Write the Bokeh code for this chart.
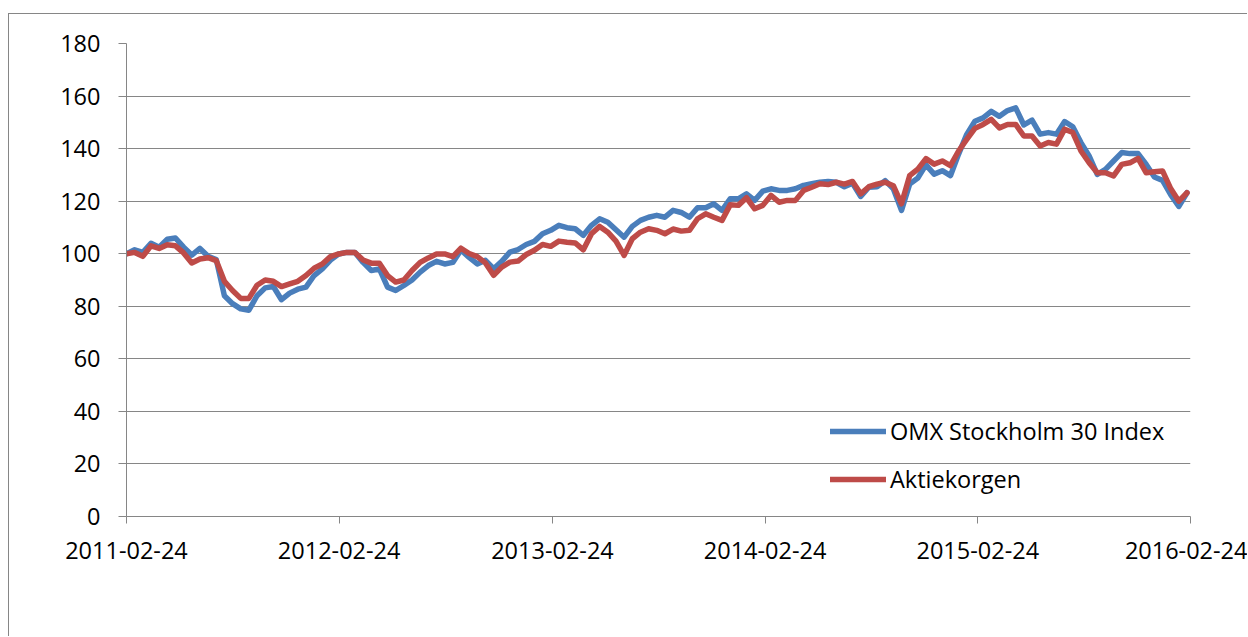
import pandas as pd
from bokeh.plotting import figure
from bokeh.models import (FixedTicker, DatetimeTickFormatter, Legend, LegendItem,
                          Range1d, ColumnDataSource)
from bokeh.embed import file_html
from bokeh.resources import INLINE

# ---------------- data ----------------
start_date = "2011-02-24"
end_date = "2016-02-24"
n_points = 131
dates = pd.date_range(start_date, periods=n_points, freq="14D")

omx = [100, 101.5, 100.5, 104, 102.5, 105.5, 106, 102.5, 99.5, 102,
       99, 97.8, 84, 81, 79, 78.5, 84, 87, 87.5, 82.5,
       85, 86.5, 87.3, 91.7, 94.2, 97.6, 99.9, 100.5, 100.5, 96.7,
       93.6, 94.2, 87.3, 86, 87.9, 90, 93, 95.5, 97.1, 96.1,
       96.7, 101.4, 98.6, 96.1, 97.5, 94.3, 97.1, 100.6, 101.6, 103.5,
       104.7, 107.6, 108.9, 110.8, 109.9, 109.5, 107, 110.8, 113.3, 112,
       109.1, 106.3, 110.4, 112.7, 113.9, 114.6, 113.9, 116.5, 115.7, 113.9,
       117.5, 117.5, 119, 116.5, 120.9, 120.9, 122.8, 120.3, 123.8, 124.7,
       124.1, 124.1, 124.7, 126, 126.6, 127.2, 127.5, 127.2, 125.5, 126.8,
       121.8, 125.3, 125.5, 127.8, 124.7, 116.5, 126.5, 128.8, 133.8, 130.3,
       131.6, 129.7, 137.9, 145.4, 150.4, 151.7, 154.2, 152.3, 154.5, 155.5,
       149, 150.8, 145.5, 146.1, 145.5, 150.3, 148.3, 142.3, 137.2, 130.2,
       132.1, 135.3, 138.5, 138.1, 138.1, 134, 129.2, 127.9, 122.5, 118,
       123.2]

aktiekorgen = [100, 100.5, 99, 103, 102, 103.4, 103, 100.3, 96.5, 98,
               98.5, 97.4, 89.5, 86, 83, 83, 88, 90, 89.5, 87.5,
               88.5, 89.5, 91.7, 94.5, 96.1, 98.9, 99.9, 100.5, 100.5, 97.6,
               96.4, 96.4, 91.7, 89.2, 90, 93.6, 96.7, 98.4, 99.9, 99.9,
               98.9, 102.1, 100.1, 98.9, 96.5, 91.8, 94.9, 96.8, 97.2, 99.7,
               101.3, 103.5, 102.8, 104.8, 104.4, 104.1, 101.5, 107.6, 110.4, 108.2,
               104.8, 99.4, 105.7, 108.2, 109.5, 108.9, 107.6, 109.4, 108.6, 108.9,
               113.3, 115.2, 113.9, 112.7, 118.6, 118.4, 121.3, 117.1, 118.4, 122.2,
               119.6, 120.3, 120.3, 124.1, 125.3, 126.6, 126.3, 127.2, 126.5, 127.5,
               122.8, 125.5, 126.5, 127.2, 125.9, 119, 129.7, 132.2, 136.2, 134.1,
               135.3, 133.5, 139.1, 143.5, 147.7, 149.2, 151.1, 147.9, 149.2, 149.2,
               144.8, 144.8, 141, 142.3, 141.7, 147.4, 146.1, 139.1, 134.6, 130.8,
               130.8, 129.6, 134, 134.6, 136.3, 130.8, 131.2, 131.5, 124.8, 120,
               123.2]

series_names = ["OMX Stockholm 30 Index", "Aktiekorgen"]
x_tick_dates = ["2011-02-24", "2012-02-24", "2013-02-24", "2014-02-24",
                "2015-02-24", "2016-02-24"]
y_ticks = [0, 20, 40, 60, 80, 100, 120, 140, 160, 180]

# ---------------- styling ----------------
BLUE = "#4A7EBB"
RED = "#BE4B48"
GRAY = "#868686"
FONT = "Open Sans"
FSIZE = "23.5px"

source = ColumnDataSource(dict(date=dates, omx=omx, akt=aktiekorgen))

p = figure(width=1239, height=623, x_axis_type="datetime",
           output_backend="svg", toolbar_location=None,
           x_range=Range1d(pd.Timestamp(start_date), pd.Timestamp(end_date)),
           y_range=Range1d(y_ticks[0], y_ticks[-1]),
           min_border_left=117, min_border_right=58,
           min_border_top=29, min_border_bottom=121)
p.styles = {"border-left": f"1px solid {GRAY}", "border-top": f"1px solid {GRAY}",
            "margin-top": "13px", "margin-left": "8px"}
p.outline_line_color = None
p.background_fill_color = "white"
p.border_fill_color = "white"

r1 = p.line("date", "omx", source=source, line_color=BLUE, line_width=5.5,
            line_join="round", line_cap="round")
r2 = p.line("date", "akt", source=source, line_color=RED, line_width=5.5,
            line_join="round", line_cap="round")

# axes
p.xaxis.ticker = FixedTicker(ticks=[pd.Timestamp(d).timestamp() * 1000 for d in x_tick_dates])
fmt = "%Y-%m-%d"
p.xaxis.formatter = DatetimeTickFormatter(days=fmt, months=fmt, years=fmt, hours=fmt,
                                          minutes=fmt, seconds=fmt, milliseconds=fmt,
                                          microseconds=fmt, hourmin=fmt, minsec=fmt)
p.yaxis.ticker = FixedTicker(ticks=y_ticks)
for ax in (p.xaxis, p.yaxis):
    ax.axis_line_color = GRAY
    ax.axis_line_width = 1
    ax.major_tick_line_color = GRAY
    ax.major_tick_in = 0
    ax.minor_tick_in = 0
    ax.minor_tick_out = 0
    ax.major_label_text_font = FONT
    ax.major_label_text_font_size = FSIZE
    ax.major_label_text_color = "black"
p.yaxis.major_tick_out = 8
p.yaxis.major_label_standoff = 18
p.xaxis.major_tick_out = 7
p.xaxis.major_label_standoff = 18

p.xgrid.visible = False
p.ygrid.grid_line_color = GRAY
p.ygrid.grid_line_width = 1

legend = Legend(items=[LegendItem(label=series_names[0], renderers=[r1]),
                       LegendItem(label=series_names[1], renderers=[r2])],
                location=(704, 17), padding=0, margin=0,
                border_line_color=None, background_fill_alpha=0,
                glyph_width=56, glyph_height=40, spacing=8, label_standoff=4,
                label_text_font=FONT, label_text_font_size=FSIZE,
                label_text_color="black")
p.add_layout(legend)

open("out.html", "w").write(file_html(p, INLINE))
